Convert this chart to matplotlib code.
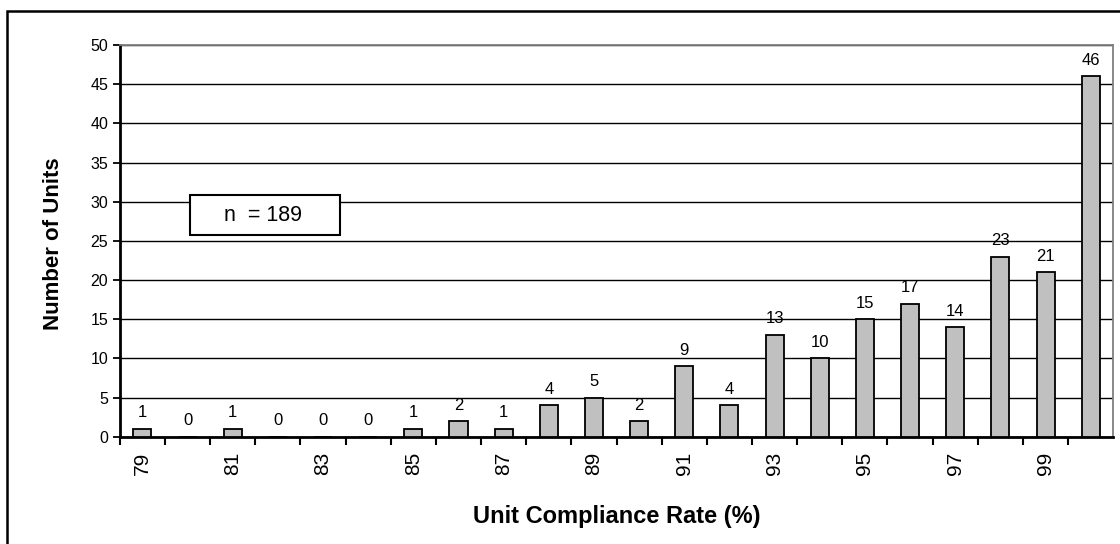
import matplotlib.pyplot as plt
from matplotlib.patches import Rectangle

plt.rcParams['font.family'] = ['Liberation Sans', 'DejaVu Sans']

rates = list(range(79, 101))
units = [1, 0, 1, 0, 0, 0, 1, 2, 1, 4, 5, 2, 9, 4, 13, 10, 15, 17, 14, 23, 21, 46]
yticks = [0, 5, 10, 15, 20, 25, 30, 35, 40, 45, 50]
n_total = 189

fig = plt.figure(figsize=(11.2, 5.44), dpi=100)
ax = fig.add_axes([0.107, 0.197, 0.887, 0.72])

xs = list(range(len(rates)))
ax.bar(xs, units, width=0.4, color='#c0c0c0', edgecolor='black', linewidth=1.3, zorder=3)

for x, v in zip(xs, units):
    ax.text(x, v + 1.1, str(v), ha='center', va='bottom', fontsize=12)

ax.set_xlim(-0.5, len(rates) - 0.5)
ax.set_ylim(0, 50)
ax.set_yticks(yticks)
ax.tick_params(axis='y', labelsize=11.5, length=5, width=1.3, direction='out')
ax.yaxis.grid(True, color='black', linewidth=1)
ax.set_axisbelow(True)

# ticks between categories, labels under odd rates
ax.set_xticks([i + 0.5 for i in xs[:-1]] + [-0.5], minor=False)
ax.set_xticklabels([])
ax.tick_params(axis='x', length=6, width=1.5, direction='out')
ax.set_xticks([x for x, r in zip(xs, rates) if r % 2 == 1], minor=True)
ax.set_xticklabels([str(r) for r in rates if r % 2 == 1], minor=True, rotation=90, fontsize=15)
ax.tick_params(axis='x', which='minor', length=0, pad=11)

for s in ['top', 'right']:
    ax.spines[s].set_color('#808080')
    ax.spines[s].set_linewidth(1.3)
for s in ['left', 'bottom']:
    ax.spines[s].set_color('black')
    ax.spines[s].set_linewidth(2)

ax.set_ylabel('Number of Units', fontsize=16, fontweight='bold', va='center')
ax.yaxis.set_label_coords(-0.0665, 0.494)
ax.set_xlabel('Unit Compliance Rate (%)', fontsize=17, fontweight='bold', va='center')
ax.xaxis.set_label_coords(0.5, -0.204)

# n box
ax.add_patch(Rectangle((1.05, 25.8), 3.33, 5.1, facecolor='white', edgecolor='black',
                       linewidth=1.5, zorder=5))
ax.text(2.68, 28.3, 'n  = ' + str(n_total), ha='center', va='center', fontsize=15.5, zorder=6)

# outer chart frame (only top and left edges fall inside the image)
fig.patches.append(Rectangle((0.0065, -0.2), 1.2, 1.18, transform=fig.transFigure,
                             fill=False, edgecolor='black', linewidth=1.8))

fig.savefig('out.png', dpi=100)
